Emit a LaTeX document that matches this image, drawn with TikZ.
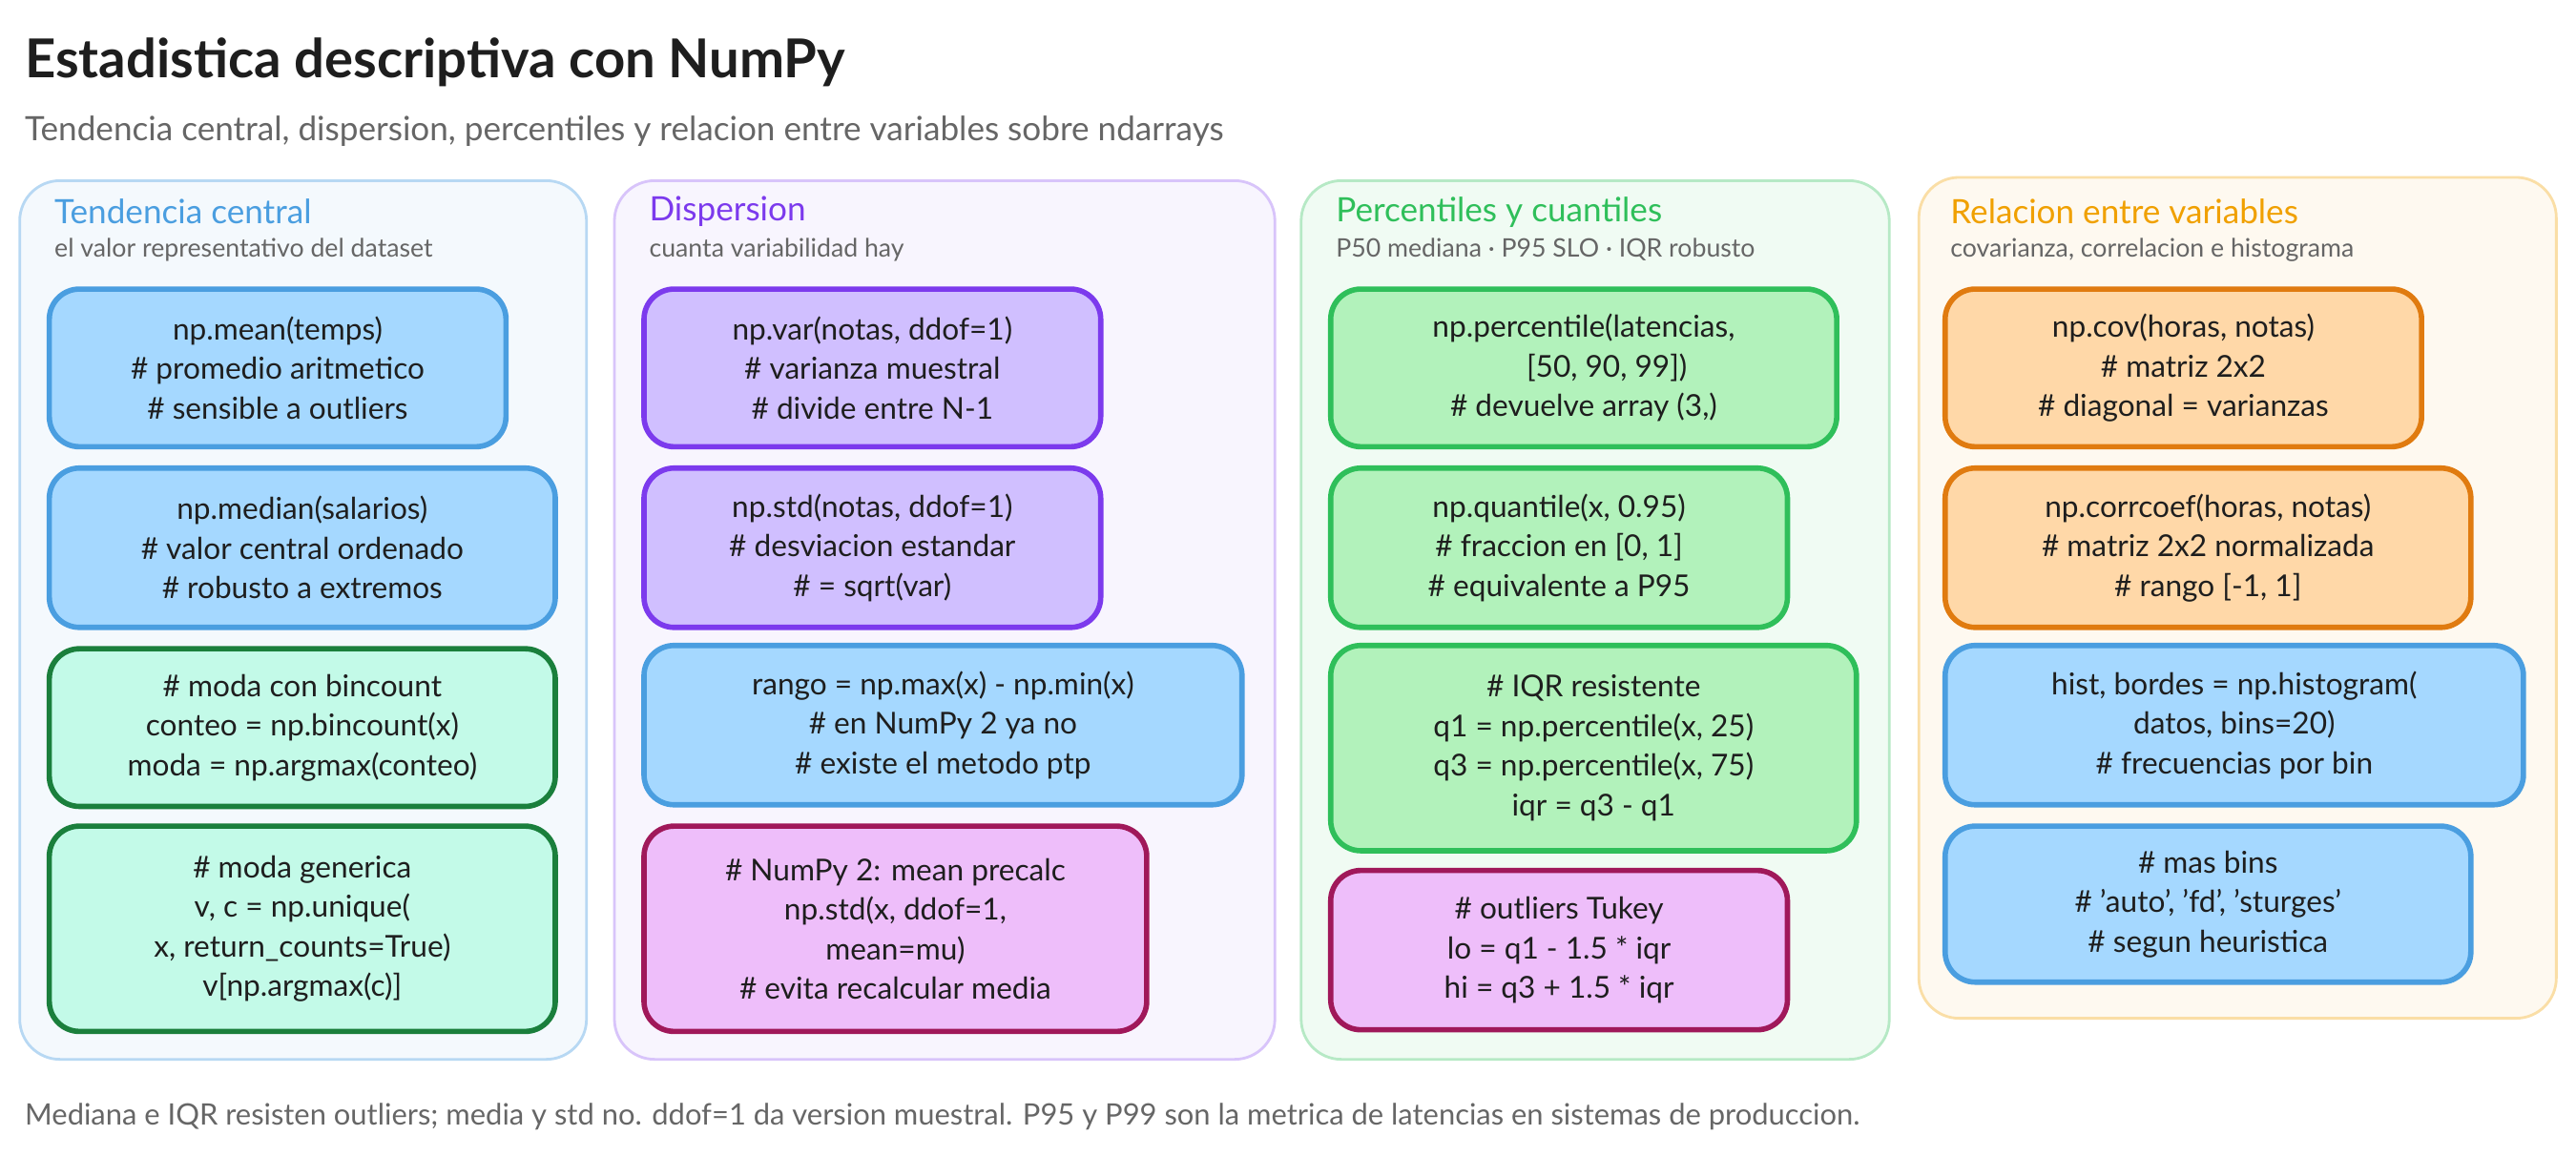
\documentclass[tikz,border=0pt]{standalone}
\usepackage{fontspec}
\setmainfont{Lato}
\usetikzlibrary{calc}
\definecolor{bluef}{HTML}{A5D8FF}\definecolor{blued}{HTML}{4A9EE0}
\definecolor{purf}{HTML}{D0BFFF}\definecolor{purd}{HTML}{7C3AED}
\definecolor{grnf}{HTML}{B2F2BB}\definecolor{grnd}{HTML}{2FBF5A}
\definecolor{tealf}{HTML}{C3FAE8}\definecolor{teald}{HTML}{1A7F3C}
\definecolor{pinkf}{HTML}{EEBEFA}\definecolor{pinkd}{HTML}{A0185A}
\definecolor{orgf}{HTML}{FFD8A8}\definecolor{orgd}{HTML}{E07B10}
\definecolor{ylwd}{HTML}{F0A000}
\definecolor{txt}{HTML}{1E1E1E}\definecolor{gry}{HTML}{666666}
\newcommand\sq{\char"27\relax}
\tikzset{
 bxs/.style={line width=1.6pt,rounded corners=9pt},
 blue/.style={bxs,draw=blued,fill=bluef},
 pur/.style={bxs,draw=purd,fill=purf},
 grn/.style={bxs,draw=grnd,fill=grnf},
 teal/.style={bxs,draw=teald,fill=tealf},
 pink/.style={bxs,draw=pinkd,fill=pinkf},
 org/.style={bxs,draw=orgd,fill=orgf},
 pnl/.style={line width=0.8pt,rounded corners=12pt},
 btxt/.style={align=center,text=txt,font=\fontsize{9}{11.8}\selectfont},
 head/.style={anchor=west,font=\fontsize{10}{12}\selectfont},
 sub/.style={anchor=west,text=gry,font=\fontsize{7.6}{9}\selectfont},
}
\newcommand\bx[7]{\draw[#1] (#2,#3) rectangle (#4,#5);
 \node[btxt] (#6) at ($(#2,#3)!0.5!(#4,#5)$) {#7};}
\begin{document}
\begin{tikzpicture}[x=0.01722cm,y=-0.01722cm]
\useasboundingbox[fill=white] (0,0) rectangle (1568,703.3);
\node[anchor=west,text=txt,font=\fontsize{16}{19}\selectfont\bfseries] (title) at (8,38) {Estadistica descriptiva con NumPy};
\node[anchor=west,text=gry,font=\fontsize{10}{12}\selectfont] (subt) at (8,80) {Tendencia central, dispersion, percentiles y relacion entre variables sobre ndarrays};
% panels
\draw[pnl,draw=blued!40,fill=blued!6] (12,110) rectangle (357,645);
\draw[pnl,draw=purd!30,fill=purd!5] (374,110) rectangle (776,645);
\draw[pnl,draw=grnd!35,fill=grnd!7] (792,110) rectangle (1150,645);
\draw[pnl,draw=ylwd!35,fill=ylwd!6] (1168,108) rectangle (1556,620);
\node[head,text=blued] (h1) at (26,129) {Tendencia central};
\node[sub] (s1) at (26,152) {el valor representativo del dataset};
\node[head,text=purd] (h2) at (388,129) {Dispersion};
\node[sub] (s2) at (388,152) {cuanta variabilidad hay};
\node[head,text=grnd] (h3) at (806,129) {Percentiles y cuantiles};
\node[sub] (s3) at (806,152) {P50 mediana · P95 SLO · IQR robusto};
\node[head,text=ylwd] (h4) at (1180,129) {Relacion entre variables};
\node[sub] (s4) at (1180,152) {covarianza, correlacion e histograma};
% column 1
\bx{blue}{30}{176}{308}{272}{a1}{np.mean(temps)\\\# promedio aritmetico\\\# sensible a outliers}
\bx{blue}{30}{285}{338}{382}{a2}{np.median(salarios)\\\# valor central ordenado\\\# robusto a extremos}
\bx{teal}{30}{395}{338}{491}{a3}{\# moda con bincount\\conteo = np.bincount(x)\\moda = np.argmax(conteo)}
\bx{teal}{30}{503}{338}{628}{a4}{\# moda generica\\v, c = np.unique(\\x, return\_counts=True)\\v[np.argmax(c)]}
% column 2
\bx{pur}{392}{176}{670}{272}{b1}{np.var(notas, ddof=1)\\\# varianza muestral\\\# divide entre N-1}
\bx{pur}{392}{285}{670}{382}{b2}{np.std(notas, ddof=1)\\\# desviacion estandar\\\# = sqrt(var)}
\bx{blue}{392}{393}{756}{490}{b3}{rango = np.max(x) - np.min(x)\\\# en NumPy 2 ya no\\\# existe el metodo ptp}
\bx{pink}{392}{503}{698}{628}{b4}{\# NumPy 2: mean precalc\\np.std(x, ddof=1,\\mean=mu)\\\# evita recalcular media}
% column 3
\bx{grn}{810}{176}{1118}{272}{c1}{np.percentile(latencias,\\ \ \ \ \ \ \ [50, 90, 99])\\\# devuelve array (3,)}
\bx{grn}{810}{285}{1088}{382}{c2}{np.quantile(x, 0.95)\\\# fraccion en [0, 1]\\\# equivalente a P95}
\bx{grn}{810}{393}{1130}{518}{c3}{\# IQR resistente\\q1 = np.percentile(x, 25)\\q3 = np.percentile(x, 75)\\iqr = q3 - q1}
\bx{pink}{810}{530}{1088}{627}{c4}{\# outliers Tukey\\lo = q1 - 1.5 * iqr\\hi = q3 + 1.5 * iqr}
% column 4
\bx{org}{1184}{176}{1474}{272}{d1}{np.cov(horas, notas)\\\# matriz 2x2\\\# diagonal = varianzas}
\bx{org}{1184}{285}{1504}{382}{d2}{np.corrcoef(horas, notas)\\\# matriz 2x2 normalizada\\\# rango [-1, 1]}
\bx{blue}{1184}{393}{1536}{490}{d3}{hist, bordes = np.histogram(\\datos, bins=20)\\\# frecuencias por bin}
\bx{blue}{1184}{503}{1504}{598}{d4}{\# mas bins\\\# \sq auto\sq, \sq fd\sq, \sq sturges\sq\\\# segun heuristica}
\node[anchor=west,text=gry,font=\fontsize{8.8}{10}\selectfont] (foot) at (8,680) {Mediana e IQR resisten outliers; media y std no. ddof=1 da version muestral. P95 y P99 son la metrica de latencias en sistemas de produccion.};
\end{tikzpicture}
\end{document}
